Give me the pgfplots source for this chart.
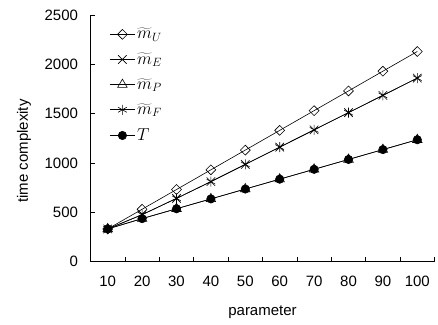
\documentclass[border=0pt]{standalone}
\usepackage{pgfplots}
\pgfplotsset{compat=1.18}
\usepackage{fontspec}
\setmainfont{Liberation Sans}
\usetikzlibrary{calc}
\begin{document}
\begin{tikzpicture}
\begin{axis}[
  scale only axis,
  width=344pt, height=246.5pt,
  xmin=0.5, xmax=10.5, ymin=0, ymax=2500,
  axis x line*=bottom, axis y line*=left,
  axis line style={line width=0.7pt},
  xtick={1,...,10},
  xticklabels={10,20,30,40,50,60,70,80,90,100},
  minor xtick={0.5,1.5,...,10.5},
  major x tick style={draw=none},
  minor tick length=5pt,
  ytick={0,500,1000,1500,2000,2500},
  major tick length=5pt,
  tick align=inside,
  tick style={line width=0.7pt, black},
  tick label style={font=\fontsize{15}{18}\selectfont},
  label style={font=\fontsize{15}{18}\selectfont},
  /pgf/number format/assume math mode=true,
  /pgf/number format/1000 sep={},
  xticklabel style={yshift=-11pt},
  yticklabel style={xshift=-9pt},
  xlabel={parameter},
  ylabel={time complexity},
  xlabel style={at={(axis description cs:0.5,0)}, anchor=center, yshift=-51pt},
  ylabel style={at={(axis description cs:-0.193,0.448)}, anchor=center},
  legend style={draw=none, fill=none, at={(axis description cs:0.055,0.955)}, anchor=north west,
    inner sep=0pt, row sep=9pt, font=\fontsize{16.5}{19}\selectfont, legend cell align=left},
  legend image code/.code={\draw[mark repeat=2,mark phase=2,#1] plot coordinates {(0pt,0pt)(12.5pt,0pt)(25pt,0pt)};},
  every axis plot/.append style={black, line width=0.6pt},
]
\coordinate (sw) at (rel axis cs:0,0);
\coordinate (ne) at (rel axis cs:1,1);
\addplot[mark=square, mark size=3.5pt, mark options={rotate=45, fill=white, solid}] coordinates {
(1,330)(2,530)(3,730)(4,930)(5,1130)(6,1330)(7,1530)(8,1730)(9,1930)(10,2130)};
\addlegendentry{$\widetilde{m}_U$}
\addplot[mark=x, mark size=6pt] coordinates {
(1,330)(2,475)(3,640)(4,810)(5,985)(6,1160)(7,1335)(8,1510)(9,1685)(10,1860)};
\addlegendentry{$\widetilde{m}_E$}
\addplot[mark=triangle, mark size=5.5pt, mark options={fill=white}] coordinates {
(1,330)(2,435)(3,535)(4,635)(5,735)(6,835)(7,935)(8,1035)(9,1135)(10,1235)};
\addlegendentry{$\widetilde{m}_P$}
\addplot[mark=asterisk, mark size=5pt] coordinates {
(1,330)(2,475)(3,640)(4,810)(5,985)(6,1160)(7,1335)(8,1510)(9,1685)(10,1860)};
\addlegendentry{$\widetilde{m}_F$}
\addplot[mark=*, mark size=4.2pt] coordinates {
(1,330)(2,435)(3,535)(4,635)(5,735)(6,835)(7,935)(8,1035)(9,1135)(10,1235)};
\addlegendentry{$T$}
\end{axis}
\pgfresetboundingbox
\path ($(sw)+(-90.5pt,-62.5pt)$) rectangle ($(ne)+(3.5pt,15pt)$);
\end{tikzpicture}
\end{document}
